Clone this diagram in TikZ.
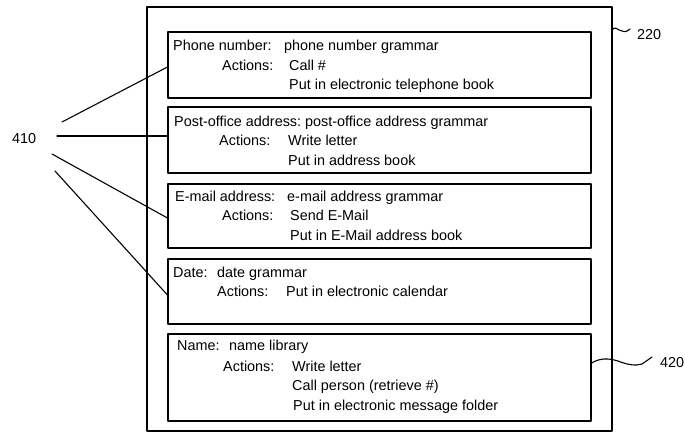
\documentclass[tikz,border=0pt]{standalone}
\usepackage{fontspec}
\setmainfont{Liberation Sans}
\usetikzlibrary{positioning,calc}

\begin{document}
\begin{tikzpicture}[
		x=1pt,
		y=-1pt,
		line cap=round,
		line join=round,
		store/.style={draw,line width=1.1pt,minimum width=465pt,minimum height=424pt,inner sep=0pt},
		entrybox/.style={draw,line width=1.1pt,minimum width=423pt,inner sep=0pt},
		field/.style={anchor=base west,inner sep=0pt,font=\fontsize{14.4}{17}\selectfont},
		refnum/.style={anchor=base west,inner sep=0pt,font=\fontsize{14.4}{17}\selectfont},
		leader/.style={line width=1.1pt}
	]
	
	% Page size
	\useasboundingbox (0,0) rectangle (685,434);
	
	% Outer store
	\node[store] (store) at (379.5,219) {};
	
	% Entry boxes
	\node[entrybox,minimum height=66pt] (phone) at (379.5,65) {};
	\node[entrybox,minimum height=66pt] (post)  at (379.5,140) {};
	\node[entrybox,minimum height=64pt] (email) at (379.5,216) {};
	\node[entrybox,minimum height=65pt] (date)  at (379.5,291.5) {};
	\node[entrybox,minimum height=87pt] (name)  at (379.5,377.5) {};
	
	% Phone number
	\node[field] (phonekey) at (173,50) {Phone number:};
	\node[field] (phoneval) at (284,50) {phone number grammar};
	\node[field] (phoneact) at (222,70) {Actions:};
	\node[field] (phonea1)  at (289,70) {Call \#};
	\node[field] (phonea2)  at (289,89) {Put in electronic telephone book};
	
	% Post-office address
	\node[field] (postkey) at (174,126) {Post-office address:};
	\node[field] (postval) at (305,126) {post-office address grammar};
	\node[field] (postact) at (219,145) {Actions:};
	\node[field] (posta1)  at (288,145) {Write letter};
	\node[field] (posta2)  at (288,165) {Put in address book};
	
	% E-mail address
	\node[field] (emailkey) at (175,201) {E-mail address:};
	\node[field] (emailval) at (287,201) {e-mail address grammar};
	\node[field] (emailact) at (222,220) {Actions:};
	\node[field] (emaila1)  at (290,220) {Send E-Mail};
	\node[field] (emaila2)  at (290,240) {Put in E-Mail address book};
	
	% Date
	\node[field] (datekey) at (173,277) {Date:};
	\node[field] (dateval) at (217,277) {date grammar};
	\node[field] (dateact) at (217,296) {Actions:};
	\node[field] (datea1)  at (286,296) {Put in electronic calendar};
	
	% Name
	\node[field] (namekey) at (177,350) {Name:};
	\node[field] (nameval) at (229,350) {name library};
	\node[field] (nameact) at (223,371) {Actions:};
	\node[field] (namea1)  at (292,371) {Write letter};
	\node[field] (namea2)  at (292,390) {Call person (retrieve \#)};
	\node[field] (namea3)  at (293,410) {Put in electronic message folder};
	
	% Reference numerals
	\node[refnum] (n410) at (12,143) {410};
	\node[refnum] (n220) at (637,39) {220};
	\node[refnum] (n420) at (660,367) {420};
	
	% Leader lines for 410
	\coordinate (l1) at (62,122);
	\coordinate (l2) at (57,136);
	\coordinate (l3) at (52,154);
	\coordinate (l4) at (55,171);
	\draw[leader] (l1) -- ($(phone.west)+(0,2)$);
	\draw[leader] (l2) -- ($(post.west)+(0,-4)$);
	\draw[leader] (l3) -- ($(email.west)+(0,2)$);
	\draw[leader] (l4) -- ($(date.west)+(0,3.5)$);
	
	% Squiggles for 220 and 420
	\draw[leader] ($(store.north east)+(0,23)$) .. controls (617,24) and (621,37) .. ($(n220.west)+(-7,-5)$);
	\draw[leader] ($(name.east)+(0,-14.5)$) .. controls (600,358) and (608,358) .. (618,361)
	.. controls (628,365) and (636,366) .. (642,364) -- ($(n420.west)+(-8,-5)$);
	
\end{tikzpicture}
\end{document}
